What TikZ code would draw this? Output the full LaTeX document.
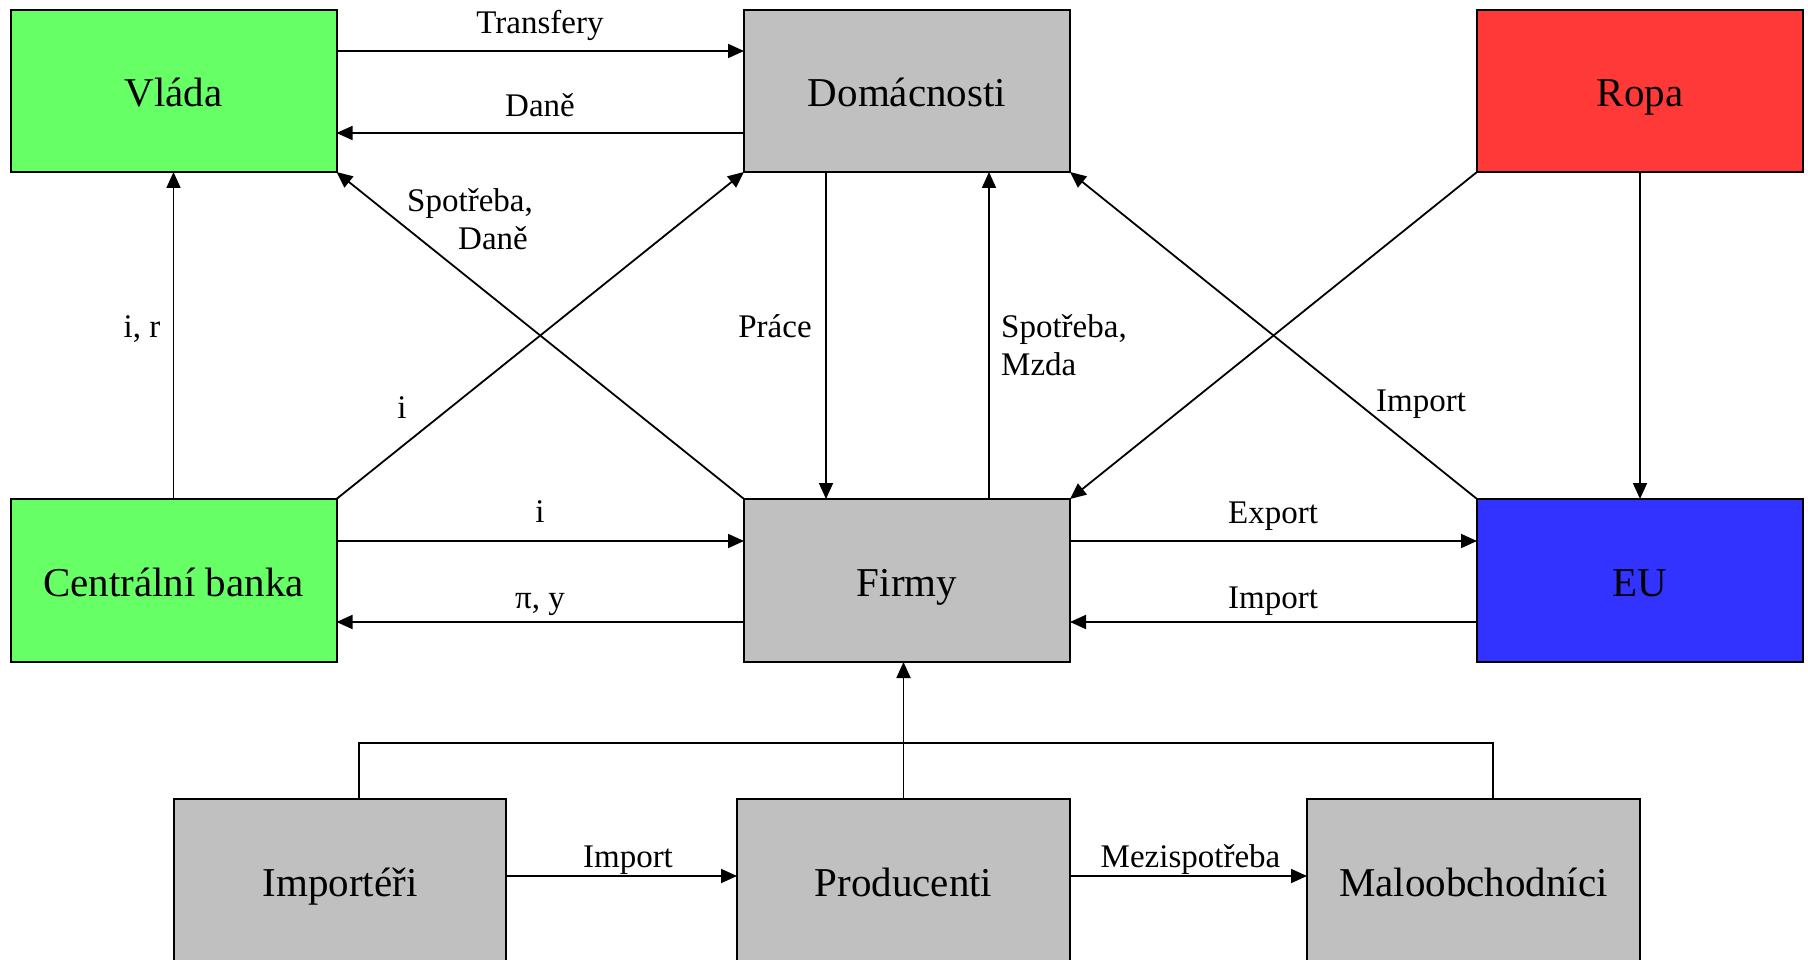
\documentclass[tikz,border=0pt]{standalone}
\usepackage{fontspec}
\setmainfont{Liberation Serif}
\usetikzlibrary{arrows.meta}
\definecolor{vgreen}{HTML}{66FF66}
\definecolor{vgray}{HTML}{C0C0C0}
\definecolor{vred}{HTML}{FF3838}
\definecolor{vblue}{HTML}{3333FF}
\begin{document}
\begin{tikzpicture}[x=1pt,y=-1pt,
 box/.style={draw=black, line width=2pt, inner sep=0pt, outer sep=0pt, minimum width=326pt, minimum height=162pt, font=\fontsize{41}{48}\selectfont, text height=36pt, text depth=4pt},
 lbl/.style={font=\fontsize{33}{38}\selectfont, inner sep=0pt, anchor=base},
 arr/.style={line width=1.8pt, -{Triangle[length=16pt,width=14pt]}},
 ln/.style={line width=1.8pt}]
\useasboundingbox (0,0) rectangle (1808,960);
% boxes
\node[box, fill=vgreen] (vlada) at (173.5,91) {Vláda};
\node[box, fill=vgray] (dom) at (907,91) {Domácnosti};
\node[box, fill=vred] (ropa) at (1640,91) {Ropa};
\node[box, fill=vgreen, minimum height=163pt] (cb) at (173.5,580.5) {Centrální banka};
\node[box, fill=vgray, minimum height=163pt] (firmy) at (907,580.5) {Firmy};
\node[box, fill=vblue, minimum height=163pt] (eu) at (1640,580.5) {EU};
\node[box, fill=vgray, minimum width=332pt, minimum height=163pt] (imp) at (340,880.5) {Importéři};
\node[box, fill=vgray, minimum width=333pt, minimum height=163pt] (prod) at (903.5,880.5) {Producenti};
\node[box, fill=vgray, minimum width=333pt, minimum height=163pt] (malo) at (1473.5,880.5) {Maloobchodníci};
% top row
\draw[arr] ([yshift=40pt]vlada.east) -- ([yshift=40pt]dom.west);
\draw[arr] ([yshift=-42pt]dom.west) -- ([yshift=-42pt]vlada.east);
% verticals
\draw[arr] (cb.north) -- (vlada.south);
\draw[arr] ([xshift=-81pt]dom.south) -- ([xshift=-81pt]firmy.north);
\draw[arr] ([xshift=82pt]firmy.north) -- ([xshift=82pt]dom.south);
\draw[arr] (ropa.south) -- (eu.north);
% diagonals
\draw[arr] (firmy.north west) -- (vlada.south east);
\draw[arr] (cb.north east) -- (dom.south west);
\draw[arr] (eu.north west) -- (dom.south east);
\draw[arr] (ropa.south west) -- (firmy.north east);
% middle row
\draw[arr] ([yshift=39.5pt]cb.east) -- ([yshift=39.5pt]firmy.west);
\draw[arr] ([yshift=-41.5pt]firmy.west) -- ([yshift=-41.5pt]cb.east);
\draw[arr] ([yshift=39.5pt]firmy.east) -- ([yshift=39.5pt]eu.west);
\draw[arr] ([yshift=-41.5pt]eu.west) -- ([yshift=-41.5pt]firmy.east);
% bottom
\coordinate (bus) at (903.5,743);
\draw[arr] (prod.north) -- (prod.north |- firmy.south);
\draw[ln] ([xshift=18.6pt]imp.north) |- (bus) -| ([xshift=19.5pt]malo.north);
\draw[arr] ([yshift=4.5pt]imp.east) -- ([yshift=4.5pt]prod.west);
\draw[arr] ([yshift=4.5pt]prod.east) -- ([yshift=4.5pt]malo.west);
% labels
\node[lbl] (lTransfery) at (540,34) {Transfery};
\node[lbl] (lDane) at (540,116.7) {Daně};
\node[lbl, anchor=base east] (lSpot1) at (533,212) {Spotřeba,};
\node[lbl, anchor=base east] (lSpot2) at (528,250) {Daně};
\node[lbl] (lir) at (142,337) {i, r};
\node[lbl] (ldiagi) at (402,418) {i};
\node[lbl] (lPrace) at (775,337) {Práce};
\node[lbl, anchor=base west] (lSpotM) at (1001,337) {Spotřeba,};
\node[lbl, anchor=base west] (lMzda) at (1001,375) {Mzda};
\node[lbl] (lImpDiag) at (1421,411) {Import};
\node[lbl] (lcbi) at (540,522) {i};
\node[lbl] (lpiy) at (540,608) {π, y};
\node[lbl] (lExport) at (1273,523) {Export};
\node[lbl] (lImpEU) at (1273,608) {Import};
\node[lbl] (lImpBot) at (628,867) {Import};
\node[lbl] (lMezi) at (1190.5,867) {Mezispotřeba};
\end{tikzpicture}
\end{document}
